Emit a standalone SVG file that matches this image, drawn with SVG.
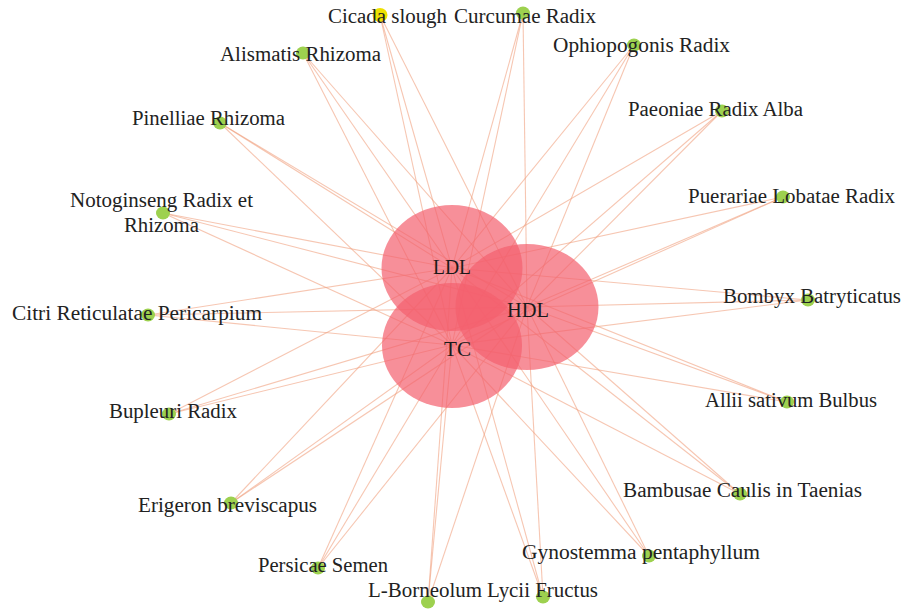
<svg xmlns="http://www.w3.org/2000/svg" width="906" height="612" viewBox="0 0 906 612">
  <style>
    .e { stroke: #f0a07e; stroke-width: 1.1; stroke-opacity: 0.6; fill: none; }
    .hub { fill: #f4606e; fill-opacity: 0.7; }
    .dot { fill: #9dd14f; }
    .dot-y { fill: #eee000; }
    .lbl { font-family: "Liberation Serif", "Times New Roman", serif; font-size: 20px; fill: #222; }
    .hlbl { font-family: "Liberation Serif", "Times New Roman", serif; font-size: 21px; fill: #1a1a1a; }
  </style>
  <rect width="906" height="612" fill="#ffffff"/>

  <!-- edges: every herb links to LDL (452,268), HDL (527,307) and TC (452,345) -->
  <g id="edges">
    <line class="e" x1="380" y1="15" x2="452" y2="268"/><line class="e" x1="380" y1="15" x2="527" y2="307"/><line class="e" x1="380" y1="15" x2="452" y2="345"/>
    <line class="e" x1="523" y1="13" x2="452" y2="268"/><line class="e" x1="523" y1="13" x2="527" y2="307"/><line class="e" x1="523" y1="13" x2="452" y2="345"/>
    <line class="e" x1="303" y1="53" x2="452" y2="268"/><line class="e" x1="303" y1="53" x2="527" y2="307"/><line class="e" x1="303" y1="53" x2="452" y2="345"/>
    <line class="e" x1="634" y1="45" x2="452" y2="268"/><line class="e" x1="634" y1="45" x2="527" y2="307"/><line class="e" x1="634" y1="45" x2="452" y2="345"/>
    <line class="e" x1="220" y1="123" x2="452" y2="268"/><line class="e" x1="220" y1="123" x2="527" y2="307"/><line class="e" x1="220" y1="123" x2="452" y2="345"/>
    <line class="e" x1="722" y1="111" x2="452" y2="268"/><line class="e" x1="722" y1="111" x2="527" y2="307"/><line class="e" x1="722" y1="111" x2="452" y2="345"/>
    <line class="e" x1="163" y1="213" x2="452" y2="268"/><line class="e" x1="163" y1="213" x2="527" y2="307"/><line class="e" x1="163" y1="213" x2="452" y2="345"/>
    <line class="e" x1="783" y1="197" x2="452" y2="268"/><line class="e" x1="783" y1="197" x2="527" y2="307"/><line class="e" x1="783" y1="197" x2="452" y2="345"/>
    <line class="e" x1="148" y1="315" x2="452" y2="268"/><line class="e" x1="148" y1="315" x2="527" y2="307"/><line class="e" x1="148" y1="315" x2="452" y2="345"/>
    <line class="e" x1="808" y1="300" x2="452" y2="268"/><line class="e" x1="808" y1="300" x2="527" y2="307"/><line class="e" x1="808" y1="300" x2="452" y2="345"/>
    <line class="e" x1="169" y1="414" x2="452" y2="268"/><line class="e" x1="169" y1="414" x2="527" y2="307"/><line class="e" x1="169" y1="414" x2="452" y2="345"/>
    <line class="e" x1="787" y1="402" x2="452" y2="268"/><line class="e" x1="787" y1="402" x2="527" y2="307"/><line class="e" x1="787" y1="402" x2="452" y2="345"/>
    <line class="e" x1="231" y1="503" x2="452" y2="268"/><line class="e" x1="231" y1="503" x2="527" y2="307"/><line class="e" x1="231" y1="503" x2="452" y2="345"/>
    <line class="e" x1="740" y1="494" x2="452" y2="268"/><line class="e" x1="740" y1="494" x2="527" y2="307"/><line class="e" x1="740" y1="494" x2="452" y2="345"/>
    <line class="e" x1="318" y1="568" x2="452" y2="268"/><line class="e" x1="318" y1="568" x2="527" y2="307"/><line class="e" x1="318" y1="568" x2="452" y2="345"/>
    <line class="e" x1="649" y1="556" x2="452" y2="268"/><line class="e" x1="649" y1="556" x2="527" y2="307"/><line class="e" x1="649" y1="556" x2="452" y2="345"/>
    <line class="e" x1="428" y1="602" x2="452" y2="268"/><line class="e" x1="428" y1="602" x2="527" y2="307"/><line class="e" x1="428" y1="602" x2="452" y2="345"/>
    <line class="e" x1="543" y1="597" x2="452" y2="268"/><line class="e" x1="543" y1="597" x2="527" y2="307"/><line class="e" x1="543" y1="597" x2="452" y2="345"/>
  </g>

  <!-- lipid hubs -->
  <g id="hub-LDL"><ellipse class="hub" cx="452" cy="268" rx="70.5" ry="63"/></g>
  <g id="hub-HDL"><ellipse class="hub" cx="527" cy="307" rx="71.5" ry="63"/></g>
  <g id="hub-TC"><ellipse class="hub" cx="452" cy="345.5" rx="70" ry="62.5"/></g>
  <g id="hub-labels">
    <text class="hlbl" x="433" y="274" textLength="38" lengthAdjust="spacingAndGlyphs">LDL</text>
    <text class="hlbl" x="507" y="317" textLength="42" lengthAdjust="spacingAndGlyphs">HDL</text>
    <text class="hlbl" x="444" y="356" textLength="27" lengthAdjust="spacingAndGlyphs">TC</text>
  </g>

  <!-- herb nodes -->
  <g id="n-cicada"><ellipse class="dot-y" cx="380" cy="15" rx="7.5" ry="7"/><text class="lbl" x="328" y="23" textLength="119" lengthAdjust="spacingAndGlyphs">Cicada slough</text></g>
  <g id="n-curcumae"><ellipse class="dot" cx="523" cy="13" rx="7" ry="6.5"/><text class="lbl" x="454" y="23" textLength="142" lengthAdjust="spacingAndGlyphs">Curcumae Radix</text></g>
  <g id="n-alismatis"><ellipse class="dot" cx="303" cy="53" rx="7" ry="6.5"/><text class="lbl" x="220" y="61" textLength="161" lengthAdjust="spacingAndGlyphs">Alismatis Rhizoma</text></g>
  <g id="n-ophiopogonis"><ellipse class="dot" cx="634" cy="45" rx="7" ry="6.5"/><text class="lbl" x="553" y="52" textLength="177" lengthAdjust="spacingAndGlyphs">Ophiopogonis Radix</text></g>
  <g id="n-pinelliae"><ellipse class="dot" cx="220" cy="123" rx="7" ry="6.5"/><text class="lbl" x="132" y="125" textLength="153" lengthAdjust="spacingAndGlyphs">Pinelliae Rhizoma</text></g>
  <g id="n-paeoniae"><ellipse class="dot" cx="722" cy="111" rx="7" ry="6.5"/><text class="lbl" x="628" y="116" textLength="175" lengthAdjust="spacingAndGlyphs">Paeoniae Radix Alba</text></g>
  <g id="n-notoginseng"><ellipse class="dot" cx="163" cy="213" rx="7" ry="6.5"/><text class="lbl" x="70" y="207" textLength="183" lengthAdjust="spacingAndGlyphs">Notoginseng Radix et</text><text class="lbl" x="124" y="232" textLength="75" lengthAdjust="spacingAndGlyphs">Rhizoma</text></g>
  <g id="n-puerariae"><ellipse class="dot" cx="783" cy="197" rx="7" ry="6.5"/><text class="lbl" x="688" y="203" textLength="207" lengthAdjust="spacingAndGlyphs">Puerariae Lobatae Radix</text></g>
  <g id="n-citri"><ellipse class="dot" cx="148" cy="315" rx="7" ry="6.5"/><text class="lbl" x="12" y="320" textLength="250" lengthAdjust="spacingAndGlyphs">Citri Reticulatae Pericarpium</text></g>
  <g id="n-bombyx"><ellipse class="dot" cx="808" cy="300" rx="7" ry="6.5"/><text class="lbl" x="723" y="303" textLength="178" lengthAdjust="spacingAndGlyphs">Bombyx Batryticatus</text></g>
  <g id="n-bupleuri"><ellipse class="dot" cx="169" cy="414" rx="7" ry="6.5"/><text class="lbl" x="109" y="418" textLength="128" lengthAdjust="spacingAndGlyphs">Bupleuri Radix</text></g>
  <g id="n-allii"><ellipse class="dot" cx="787" cy="402" rx="7" ry="6.5"/><text class="lbl" x="705" y="407" textLength="172" lengthAdjust="spacingAndGlyphs">Allii sativum Bulbus</text></g>
  <g id="n-erigeron"><ellipse class="dot" cx="231" cy="503" rx="7" ry="6.5"/><text class="lbl" x="138" y="512" textLength="179" lengthAdjust="spacingAndGlyphs">Erigeron breviscapus</text></g>
  <g id="n-bambusae"><ellipse class="dot" cx="740" cy="494" rx="7" ry="6.5"/><text class="lbl" x="623" y="497" textLength="239" lengthAdjust="spacingAndGlyphs">Bambusae Caulis in Taenias</text></g>
  <g id="n-persicae"><ellipse class="dot" cx="318" cy="568" rx="7" ry="6.5"/><text class="lbl" x="258" y="572" textLength="130" lengthAdjust="spacingAndGlyphs">Persicae Semen</text></g>
  <g id="n-gynostemma"><ellipse class="dot" cx="649" cy="556" rx="7" ry="6.5"/><text class="lbl" x="522" y="559" textLength="238" lengthAdjust="spacingAndGlyphs">Gynostemma pentaphyllum</text></g>
  <g id="n-borneolum"><ellipse class="dot" cx="428" cy="602" rx="7" ry="6.5"/><text class="lbl" x="368" y="597" textLength="114" lengthAdjust="spacingAndGlyphs">L-Borneolum</text></g>
  <g id="n-lycii"><ellipse class="dot" cx="543" cy="597" rx="7" ry="6.5"/><text class="lbl" x="487" y="597" textLength="111" lengthAdjust="spacingAndGlyphs">Lycii Fructus</text></g>
</svg>
